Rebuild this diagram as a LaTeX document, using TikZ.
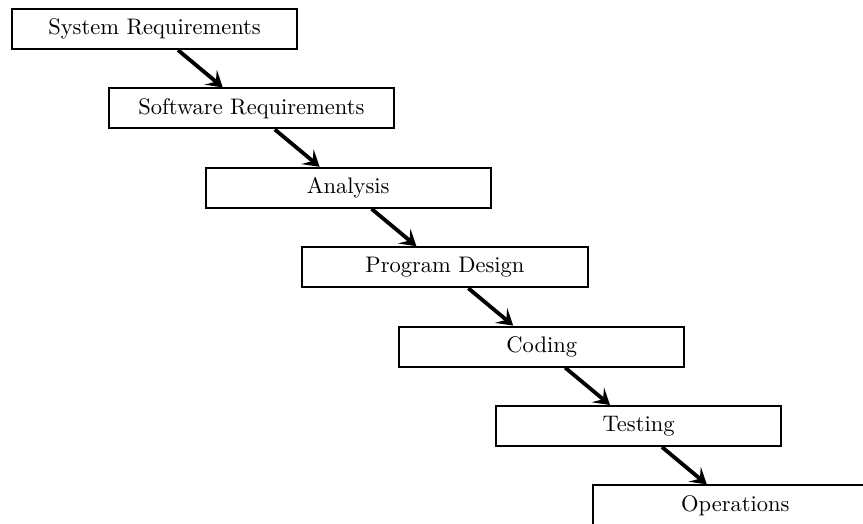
\documentclass[tikz,border=0pt]{standalone}
\usetikzlibrary{calc,arrows.meta}
\begin{document}
\begin{tikzpicture}[x=0.4444pt,y=-0.4444pt,
  stage/.style={draw, line width=0.9pt, anchor=north west, minimum width=126.7pt,
    minimum height=17.8pt, inner sep=0pt, font=\normalsize},
  flow/.style={-{Stealth[length=7pt,width=8.5pt,inset=3pt]}, line width=1.7pt}]
  \useasboundingbox (0,0) rectangle (863,524);
  \clip (0,0) rectangle (863,524);
  % staircase of stages
  \node[stage] (s1) at (11,8)    {System Requirements};
  \node[stage] (s2) at (107.8,87.4)  {Software Requirements};
  \node[stage] (s3) at (204.6,166.8) {Analysis};
  \node[stage] (s4) at (301.4,246.2) {Program Design};
  \node[stage] (s5) at (398.2,325.6) {Coding};
  \node[stage] (s6) at (495,405)   {Testing};
  \node[stage] (s7) at (591.8,484.4) {Operations};
  % arrows between consecutive stages
  \foreach \a/\b in {s1/s2,s2/s3,s3/s4,s4/s5,s5/s6,s6/s7}
    \draw[flow] ($(\a.south west)+(167,0)$) -- ($(\b.north west)+(115,0)$);
\end{tikzpicture}
\end{document}
